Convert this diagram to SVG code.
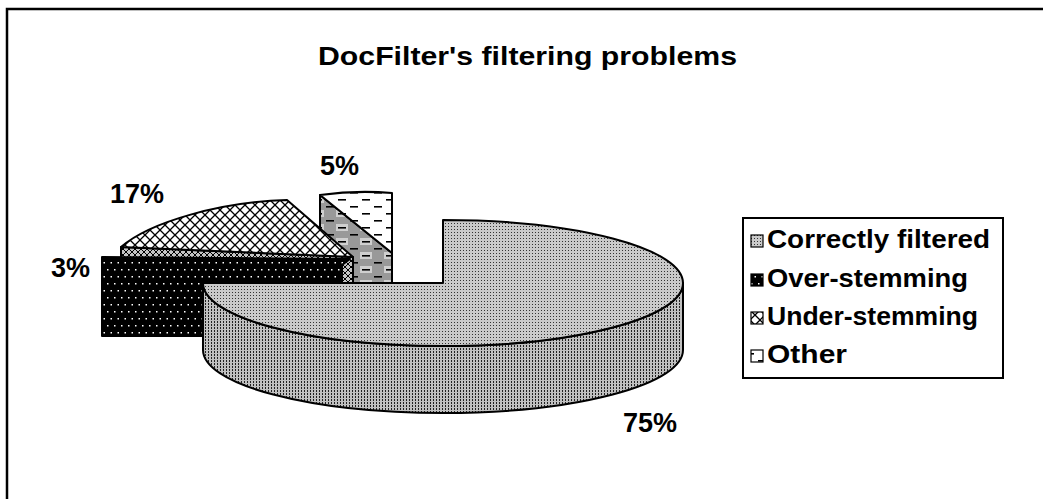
<svg xmlns="http://www.w3.org/2000/svg" width="1043" height="499" viewBox="0 0 1043 499">
<style>
.t{font-family:"Liberation Sans",Arial,sans-serif;font-weight:bold;fill:#000}
.e{stroke:#000;stroke-width:2;stroke-linejoin:round}
.m{stroke:#000;stroke-width:1.2}
</style>
<defs>
<pattern id="pTop" width="3" height="3" patternUnits="userSpaceOnUse"><rect width="3" height="3" fill="#cacaca"/><rect x="1" y="1" width="1" height="1" fill="#333"/></pattern>
<pattern id="pSide" width="3" height="3" patternUnits="userSpaceOnUse"><rect width="3" height="3" fill="#c0c0c0"/><rect x="1" y="0" width="1" height="2" fill="#222"/></pattern>
<pattern id="pDots" width="7" height="14" patternUnits="userSpaceOnUse"><rect width="7" height="14" fill="#000"/><rect x="2" y="3" width="1.5" height="1.5" fill="#fff"/><rect x="5.5" y="10" width="1.5" height="1.5" fill="#fff"/></pattern>
<pattern id="pCross" width="10" height="10" patternUnits="userSpaceOnUse"><rect width="10" height="10" fill="#fff"/><path d="M0,0 L10,10 M10,0 L0,10" stroke="#000" stroke-width="1.3"/></pattern>
<pattern id="pCrossS" width="6" height="6" patternUnits="userSpaceOnUse"><rect width="6" height="6" fill="#c4c4c4"/><path d="M0,0 L6,6 M6,0 L0,6" stroke="#000" stroke-width="1"/></pattern>
<pattern id="pDash" width="24" height="14" patternUnits="userSpaceOnUse"><rect width="24" height="14" fill="#fff"/><rect x="2" y="3" width="8" height="1.6" fill="#000"/><rect x="14" y="10" width="8" height="1.6" fill="#000"/></pattern>
<pattern id="pDashG" width="24" height="14" patternUnits="userSpaceOnUse"><rect width="24" height="14" fill="#999"/><rect x="0" y="0" width="12" height="7" fill="#cfcfcf"/><rect x="2" y="3" width="8" height="1.6" fill="#000"/><rect x="14" y="10" width="8" height="1.6" fill="#000"/></pattern>
</defs>
<rect width="1043" height="499" fill="#fff"/>
<path d="M7,499 L7,9 L1043,9" fill="none" stroke="#000" stroke-width="2.5"/>
<text class="t" x="318" y="65" font-size="26" textLength="419" lengthAdjust="spacingAndGlyphs">DocFilter's filtering problems</text>

<g id="slice-other">
<path class="e" d="M320,195 L392,253 L392,283 L320,283 Z" fill="url(#pDashG)"/>
<path class="e" d="M320,195 Q356,190 392,193 L392,253 Z" fill="url(#pDash)"/>
</g>
<g id="slice-under">
<path class="e" d="M121,247 L353,257 L353,283 L121,283 Z" fill="url(#pCrossS)"/>
<path class="e" d="M121,247 C150,222 220,202 287,200 L353,257 Z" fill="url(#pCross)"/>
</g>
<g id="slice-over">
<path class="e" d="M102,257 L350,259 L342,265 L342,290 L204,290 L204,336 L102,336 Z" fill="url(#pDots)"/>
</g>
<g id="slice-correct">
<path class="e" d="M683,283 L683,350 A240,63 0 0 1 203,350 L203,283 A240,63 0 0 0 683,283 Z" fill="url(#pSide)"/>
<path class="e" d="M443,283 L443,220 A240,63 0 1 1 203,283 Z" fill="url(#pTop)"/>
</g>

<g id="labels">
<text class="t" x="320" y="175" font-size="27">5%</text>
<text class="t" x="110" y="203" font-size="27">17%</text>
<text class="t" x="51" y="277" font-size="27">3%</text>
<text class="t" x="623" y="432" font-size="27">75%</text>
</g>

<g id="legend">
<rect x="743" y="218" width="260" height="160" fill="#fff" stroke="#000" stroke-width="2"/>
<rect class="m" x="751" y="235" width="12" height="12" fill="url(#pTop)"/>
<text class="t" x="767" y="248" font-size="25" textLength="223" lengthAdjust="spacingAndGlyphs">Correctly filtered</text>
<rect class="m" x="751" y="274" width="12" height="12" fill="url(#pDots)"/>
<text class="t" x="767" y="287" font-size="25" textLength="201" lengthAdjust="spacingAndGlyphs">Over-stemming</text>
<rect class="m" x="751" y="312" width="12" height="12" fill="url(#pCross)"/>
<text class="t" x="767" y="325" font-size="25" textLength="211" lengthAdjust="spacingAndGlyphs">Under-stemming</text>
<rect class="m" x="751" y="350" width="12" height="12" fill="url(#pDash)"/>
<text class="t" x="767" y="363" font-size="25" textLength="80" lengthAdjust="spacingAndGlyphs">Other</text>
</g>
</svg>
